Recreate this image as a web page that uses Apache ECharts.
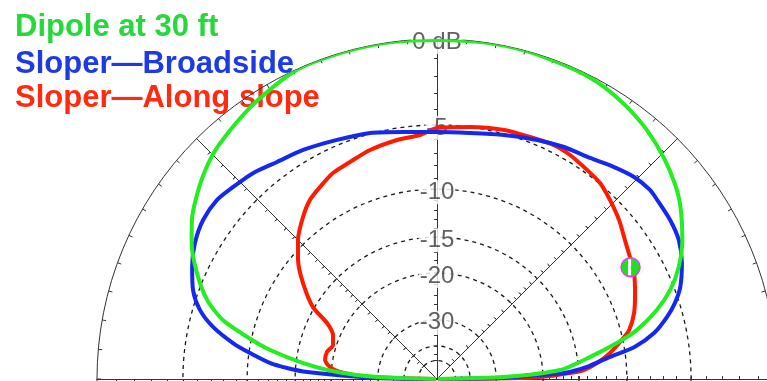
<!DOCTYPE html>
<html>
<head>
<meta charset="utf-8">
<script src="https://cdn.jsdelivr.net/npm/echarts@6/dist/echarts.min.js"></script>
<style>
html,body{margin:0;padding:0;background:#ffffff;}
#chart{width:767px;height:381px;}
</style>
</head>
<body>
<div id="chart"></div>
<script>
// ---------- data (elevation angle in degrees, gain in dB) ----------
const dipoleAngles = [0, 1.7, 4.2, 8.2, 11.3, 13.8, 17.4, 20.9, 24.8, 29.6, 35.6, 39.5, 44.4, 49.9, 55.1, 60.2, 65, 69.7, 75.2, 81.5, 90, 98, 104.7, 111.4, 115.1, 120, 124.8, 129.7, 134.5, 139.1, 143.7, 147, 151, 156.2, 161, 164.6, 167.5, 170.1, 173.2, 176, 178.1, 180];
const dipoleDb     = [-100, -27.9, -17.4, -13.5, -10.6, -8.6, -6.7, -5.3, -4.2, -3.2, -2.2, -1.7, -1.2, -0.74, -0.42, -0.18, -0.08, -0.05, 0, 0, -0.05, 0, 0, 0, -0.05, -0.3, -0.55, -0.85, -1.15, -1.6, -2.15, -2.6, -3.3, -4.45, -5.75, -7.3, -9.6, -11.9, -15.9, -21, -29.8, -100];

const broadsideAngles = [0, 1, 2.7, 3.0, 4.6, 7.25, 9.2, 12.0, 15.1, 17.7, 20.7, 25.3, 29.9, 34.3, 39.1, 41.6, 45.7, 50.1, 55.3, 61.3, 67.3, 74.6, 82.4, 90, 97.8, 105.2, 112.7, 120.3, 126.4, 131.8, 136.7, 140.9, 145.8, 150.7, 155.4, 160, 163.8, 166.9, 170, 172.1, 174.5, 175.8, 176.9, 179, 180];
const broadsideDb     = [-100, -30, -16.9, -16.1, -14.0, -11.5, -9.1, -7.3, -6.1, -5.3, -4.6, -3.9, -3.4, -3.2, -3.1, -3.04, -3.2, -3.57, -4.03, -4.31, -4.66, -5.07, -5.4, -5.48, -5.32, -4.94, -4.66, -4.26, -3.98, -3.57, -3.33, -3.11, -3.16, -3.48, -4.0, -4.63, -5.5, -6.71, -8.5, -10.1, -12.1, -14.0, -16.5, -30, -100];

const slopeAngles = [0, 0.5, 1.2, 2.6, 3.5, 5.7, 8.55, 11.9, 14.3, 18.5, 23.5, 28.3, 32.3, 36.5, 41.1, 46.0, 50.3, 54.3, 59.3, 63.4, 69.0, 74.9, 82.5, 90, 94, 99.5, 106.3, 111.85, 116.8, 121.4, 125.4, 129.6, 135, 139.4, 144.4, 149.9, 153, 157.1, 161.9, 166.2, 170.4, 173.6, 175.9, 178, 180];
const slopeDb     = [-100, -26, -20, -16.1, -14.4, -12.85, -11.4, -10.1, -9.26, -8.45, -7.79, -7.18, -6.84, -6.43, -5.86, -5.35, -4.94, -4.78, -4.57, -4.5, -4.65, -4.74, -4.99, -5.21, -5.65, -5.81, -6.08, -6.43, -6.65, -7.1, -7.51, -8.25, -9.4, -10.63, -12.43, -14.82, -17.39, -18.92, -19.46, -18.86, -18.82, -19.73, -21.47, -26, -100];

const cursorAngle = 30;
const cursorDb = -7.2;

// ---------- scale / tick definitions ----------
const circleDb   = [-5, -10, -15, -20, -30, -40, -50];
const labelDb    = [0, -5, -10, -15, -20, -30];
const labelText  = ['0 dB', '-5', '-10', '-15', '-20', '-30'];
const radialTickDb = [-1,-2,-3,-4,-5,-6,-7,-8,-9,-10,-11,-12,-13,-14,-15,-16,-17,-18,-19,-20,-22,-24,-26,-28,-30,-35,-40,-45,-50];
const radialAngles = [0, 45, 90, 135, 180];
const seriesNames = ['Dipole at 30 ft', 'Sloper\u2014Broadside', 'Sloper\u2014Along slope'];

// ARRL log-periodic scale: each 2 dB = 0.89 of radius
const toR = db => Math.pow(0.89, -db / 2);

const CENTER = [437, 379];
const RADIUS = 340;
const AXIS_COLOR = '#333';
const FONT = "'Liberation Sans', Arial, Helvetica, sans-serif";

const polar = [{ center: CENTER, radius: RADIUS }];
const angleAxis = [{
  polarIndex: 0, type: 'value', min: 0, max: 360, interval: 5,
  startAngle: 0, clockwise: false,
  axisLine: { show: true, lineStyle: { color: AXIS_COLOR, width: 1 } },
  axisTick: { show: true, inside: true, length: 4, lineStyle: { color: AXIS_COLOR, width: 1 } },
  axisLabel: { show: false }, splitLine: { show: false }
}];
const radiusAxis = [{
  polarIndex: 0, type: 'value', min: 0, max: 1,
  axisLine: { show: false },
  axisTick: { show: false, customValues: circleDb.map(toR) },
  axisLabel: { show: false },
  splitLine: { show: true, lineStyle: { color: '#1a1a1a', width: 1.3, type: [4, 4] } }
}];

// radial lines with crossing ticks
let pi = 1;
radialAngles.forEach(a => {
  [true, false].forEach(inside => {
    polar.push({ center: CENTER, radius: RADIUS });
    angleAxis.push({ polarIndex: pi, type: 'value', min: 0, max: 360, startAngle: a, clockwise: false, show: false });
    radiusAxis.push({
      polarIndex: pi, type: 'value', min: 0, max: 1,
      axisLine: { show: true, lineStyle: { color: AXIS_COLOR, width: 1 } },
      axisTick: { show: true, inside: inside, length: 3, customValues: radialTickDb.map(toR), lineStyle: { color: AXIS_COLOR, width: 1 } },
      axisLabel: { show: false }, splitLine: { show: false }
    });
    pi++;
  });
});

const toData = (angles, dbs) => angles.map((a, i) => [toR(dbs[i]), a]);

const option = {
  backgroundColor: '#ffffff',
  animation: false,
  title: [
    { text: seriesNames[0], left: 10, top: 7, z: -1, textStyle: { fontFamily: FONT, fontSize: 31, fontWeight: 'bold', color: '#27d83a', lineHeight: 31 } },
    { text: seriesNames[1], left: 10, top: 44, z: -1, textStyle: { fontFamily: FONT, fontSize: 31, fontWeight: 'bold', color: '#1d3be0', lineHeight: 31 } },
    { text: seriesNames[2], left: 10, top: 78, z: -1, textStyle: { fontFamily: FONT, fontSize: 31, fontWeight: 'bold', color: '#ff2a10', lineHeight: 31 } }
  ],
  polar, angleAxis, radiusAxis,
  series: [
    {
      type: 'scatter', coordinateSystem: 'polar', polarIndex: 0, z: 1,
      symbolSize: 0, silent: true,
      data: labelDb.map((d, i) => ({ value: [toR(d), 90], name: labelText[i] })),
      label: {
        show: true, position: 'inside', offset: [0, 3],
        formatter: p => p.name,
        fontFamily: FONT, fontSize: 24, color: '#3a3a3a',
        backgroundColor: '#ffffff', padding: [0, 1]
      }
    },
    {
      name: seriesNames[2], type: 'line', coordinateSystem: 'polar', polarIndex: 0, z: 3,
      data: toData(slopeAngles, slopeDb), showSymbol: false, smooth: 0.25,
      lineStyle: { color: '#ff1a00', width: 4 }
    },
    {
      name: seriesNames[1], type: 'line', coordinateSystem: 'polar', polarIndex: 0, z: 4,
      data: toData(broadsideAngles, broadsideDb), showSymbol: false, smooth: 0.25,
      lineStyle: { color: '#1428f0', width: 4 }
    },
    {
      name: seriesNames[0], type: 'line', coordinateSystem: 'polar', polarIndex: 0, z: 5,
      data: toData(dipoleAngles, dipoleDb), showSymbol: false, smooth: 0.25,
      lineStyle: { color: '#22ee22', width: 4 }
    },
    {
      type: 'scatter', coordinateSystem: 'polar', polarIndex: 0, z: 6, silent: true,
      data: [[toR(cursorDb), cursorAngle]],
      symbol: 'circle', symbolSize: 19,
      itemStyle: { color: '#22dd22', borderColor: '#e040ff', borderWidth: 1.5, opacity: 1 }
    },
    {
      type: 'scatter', coordinateSystem: 'polar', polarIndex: 0, z: 7, silent: true,
      data: [[toR(cursorDb), cursorAngle]],
      symbol: 'rect', symbolSize: [3, 16], symbolOffset: [-1, 0],
      itemStyle: { color: '#ffffff', opacity: 1 }
    }
  ]
};

const chart = echarts.init(document.getElementById('chart'), null, { renderer: 'canvas' });
chart.setOption(option);
</script>
</body>
</html>
